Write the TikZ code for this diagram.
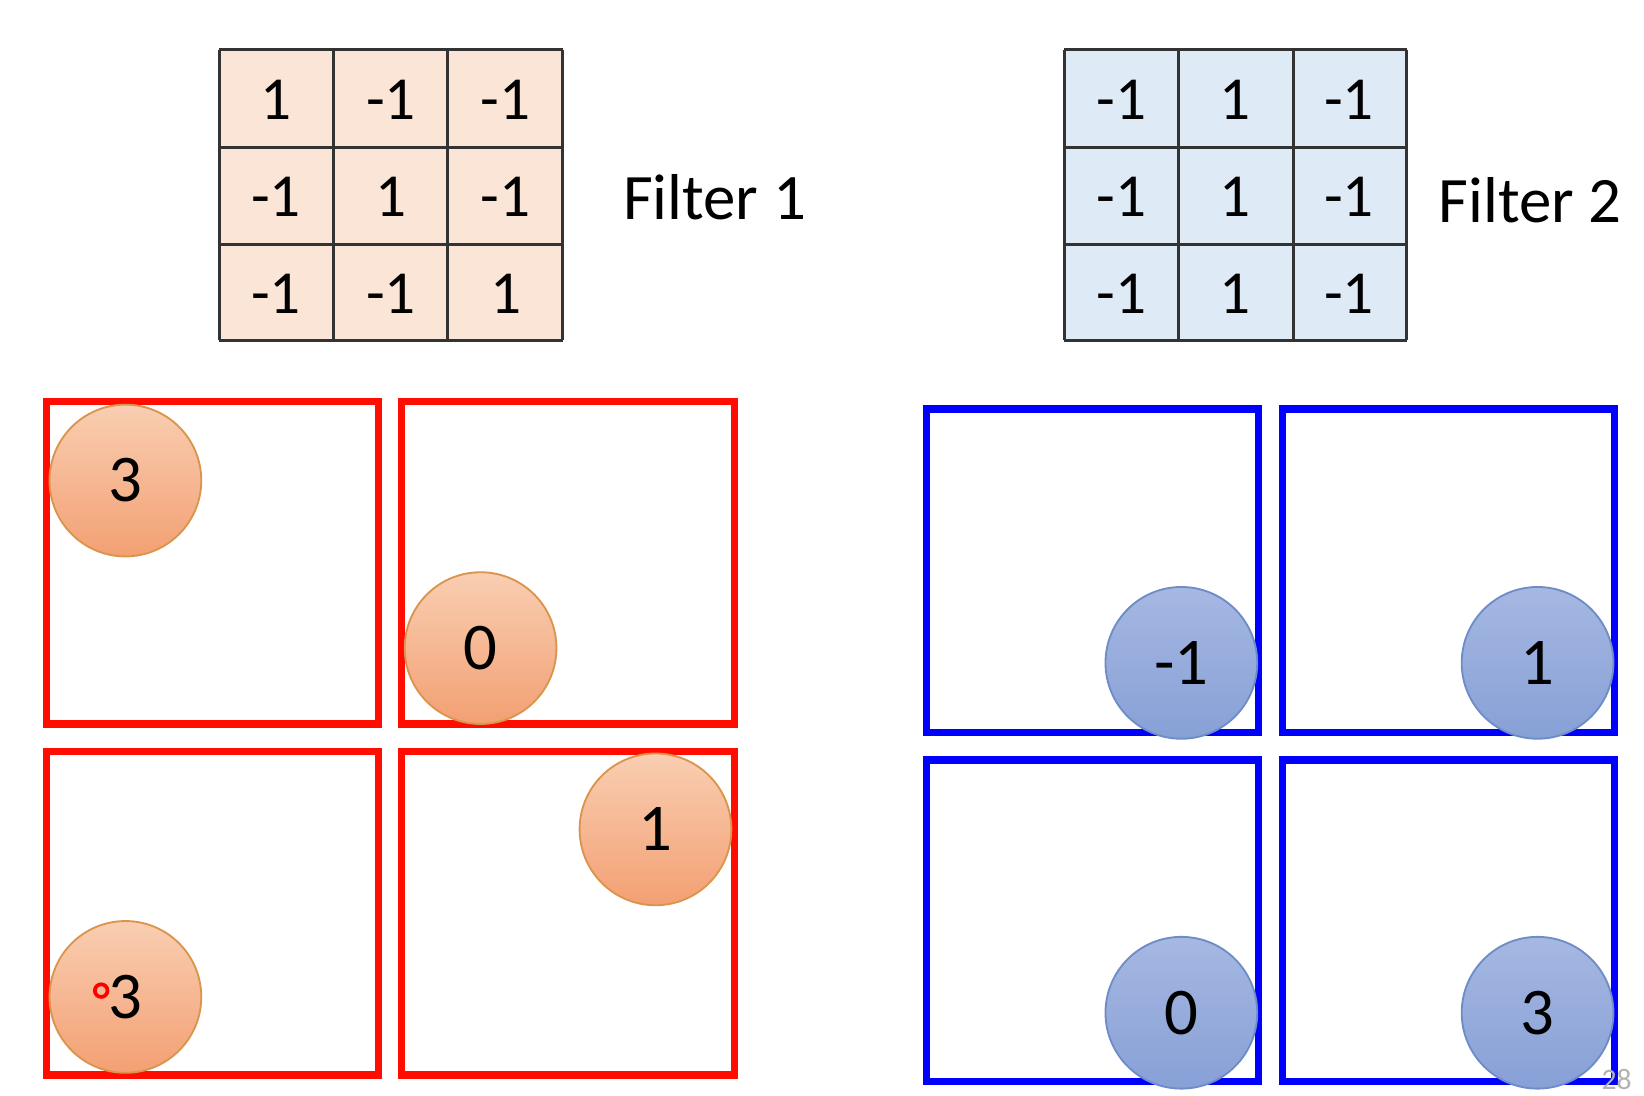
\documentclass[tikz,border=0pt]{standalone}
\usepackage{fontspec}
\setmainfont{Carlito}
\begin{document}
\begin{tikzpicture}[x=0.01cm,y=-0.01cm,
  gl/.style={draw=black!80,line width=0.8pt},
  num/.style={font=\fontsize{16.5}{18}\selectfont},
  rbox/.style={draw=red!90!orange,line width=2pt},
  bbox/.style={draw=blue,line width=2pt},
  oc/.style={circle,minimum size=144*0.01cm,draw=orange!80!black!70,line width=0.5pt,top color={rgb,255:red,249;green,206;blue,178},bottom color={rgb,255:red,243;green,160;blue,115},font=\fontsize{18}{20}\selectfont,inner sep=0},
  bc/.style={circle,minimum size=144*0.01cm,draw={rgb,255:red,110;green,140;blue,200},line width=0.5pt,top color={rgb,255:red,166;green,184;blue,226},bottom color={rgb,255:red,135;green,160;blue,214},font=\fontsize{18}{20}\selectfont,inner sep=0}]
\useasboundingbox (0,0) rectangle (1560,1040);
\definecolor{fo}{RGB}{251,229,214}
\definecolor{fb}{RGB}{222,235,247}
% Filter 1
\fill[fo] (208,47) rectangle (534,323);
\foreach \x in {208,316,425,534} \draw[gl] (\x,47) -- (\x,323);
\foreach \y in {47,140,232,323} \draw[gl] (208,\y) -- (534,\y);
\foreach \v [count=\i from 0] in {1,-1,-1,-1,1,-1,-1,-1,1}{
  \pgfmathtruncatemacro\c{mod(\i,3)}\pgfmathtruncatemacro\r{div(\i,3)}
  \node[num] (fa\i) at ({262+\c*109},{95+\r*92}) {\v};}
\node[font=\fontsize{17.5}{20}\selectfont] (f1) at (678,187) {Filter 1};
% Filter 2
\fill[fb] (1010,47) rectangle (1335,323);
\foreach \x in {1010,1118,1227,1335} \draw[gl] (\x,47) -- (\x,323);
\foreach \y in {47,140,232,323} \draw[gl] (1010,\y) -- (1335,\y);
\foreach \v [count=\i from 0] in {-1,1,-1,-1,1,-1,-1,1,-1}{
  \pgfmathtruncatemacro\c{mod(\i,3)}\pgfmathtruncatemacro\r{div(\i,3)}
  \node[num] (fb\i) at ({1064+\c*108},{95+\r*92}) {\v};}
\node[font=\fontsize{17.5}{20}\selectfont] (f2) at (1452,190) {Filter 2};
% red boxes
\draw[rbox] (44,381) rectangle (359,687);
\draw[rbox] (381,381) rectangle (697,687);
\draw[rbox] (44,713) rectangle (359,1020);
\draw[rbox] (381,713) rectangle (697,1020);
\node[oc] (o1) at (119,456) {3};
\node[oc] (o2) at (456,615) {0};
\node[oc] (o3) at (622,787) {1};
\node[oc] (o4) at (119,946) {3};
\draw[red,line width=1pt] (96,940) circle (6);
% blue boxes
\draw[bbox] (879,388) rectangle (1194,695);
\draw[bbox] (1217,388) rectangle (1532,695);
\draw[bbox] (879,721) rectangle (1194,1026);
\draw[bbox] (1217,721) rectangle (1532,1026);
\node[bc] (b1) at (1121,629) {-1};
\node[bc] (b2) at (1459,629) {1};
\node[bc] (b3) at (1121,961) {0};
\node[bc] (b4) at (1459,961) {3};
\node[text=gray!60,font=\fontsize{8}{9}\selectfont,inner sep=0] (pg) at (1534,1024) {28};
\end{tikzpicture}
\end{document}
